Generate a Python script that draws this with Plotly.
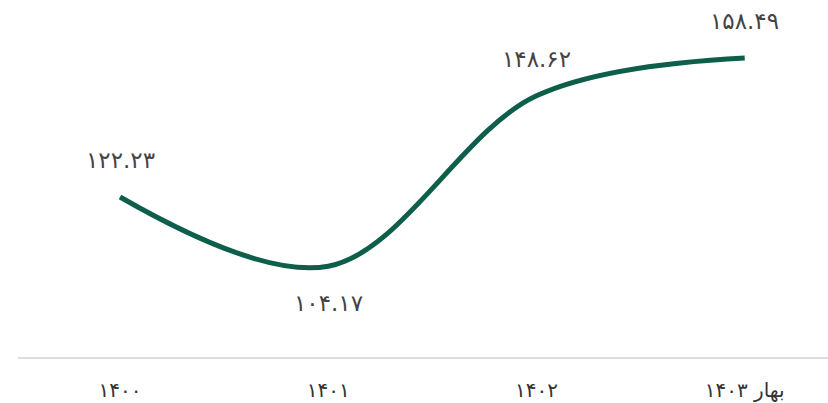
import plotly.graph_objects as go

categories = ["۱۴۰۰", "۱۴۰۱", "۱۴۰۲", "بهار ۱۴۰۳"]
values = [122.23, 104.17, 148.62, 158.49]
value_labels = ["۱۲۲.۲۳", "۱۰۴.۱۷", "۱۴۸.۶۲", "۱۵۸.۴۹"]
label_side = [1, -1, 1, 1]

fig = go.Figure()
fig.add_trace(go.Scatter(
    x=categories, y=values, mode="lines",
    line=dict(color="#0d5e4a", width=5, shape="spline", smoothing=1.0),
    hoverinfo="skip", showlegend=False,
))

for c, v, t, s in zip(categories, values, value_labels, label_side):
    fig.add_annotation(x=c, y=v, text=t, showarrow=False,
                       yshift=37 * s, font=dict(size=23, color="#444444",
                                                family="DejaVu Sans"))

fig.update_layout(
    width=828, height=403,
    margin=dict(l=18, r=0, t=0, b=46),
    paper_bgcolor="white", plot_bgcolor="white",
    font=dict(family="DejaVu Sans", color="#333333"),
    xaxis=dict(type="category", range=[-0.49, 3.40], showgrid=False,
               showline=True, linecolor="#dddddd", linewidth=2,
               ticks="", tickfont=dict(size=20, color="#333333"),
               ticklabelstandoff=14, zeroline=False),
    yaxis=dict(range=[80.5, 173.6], visible=False, showgrid=False,
               zeroline=False),
)

fig.write_html("out.html", config={"displayModeBar": False},
               post_script="document.body.style.margin='0';document.body.style.overflow='hidden';")
